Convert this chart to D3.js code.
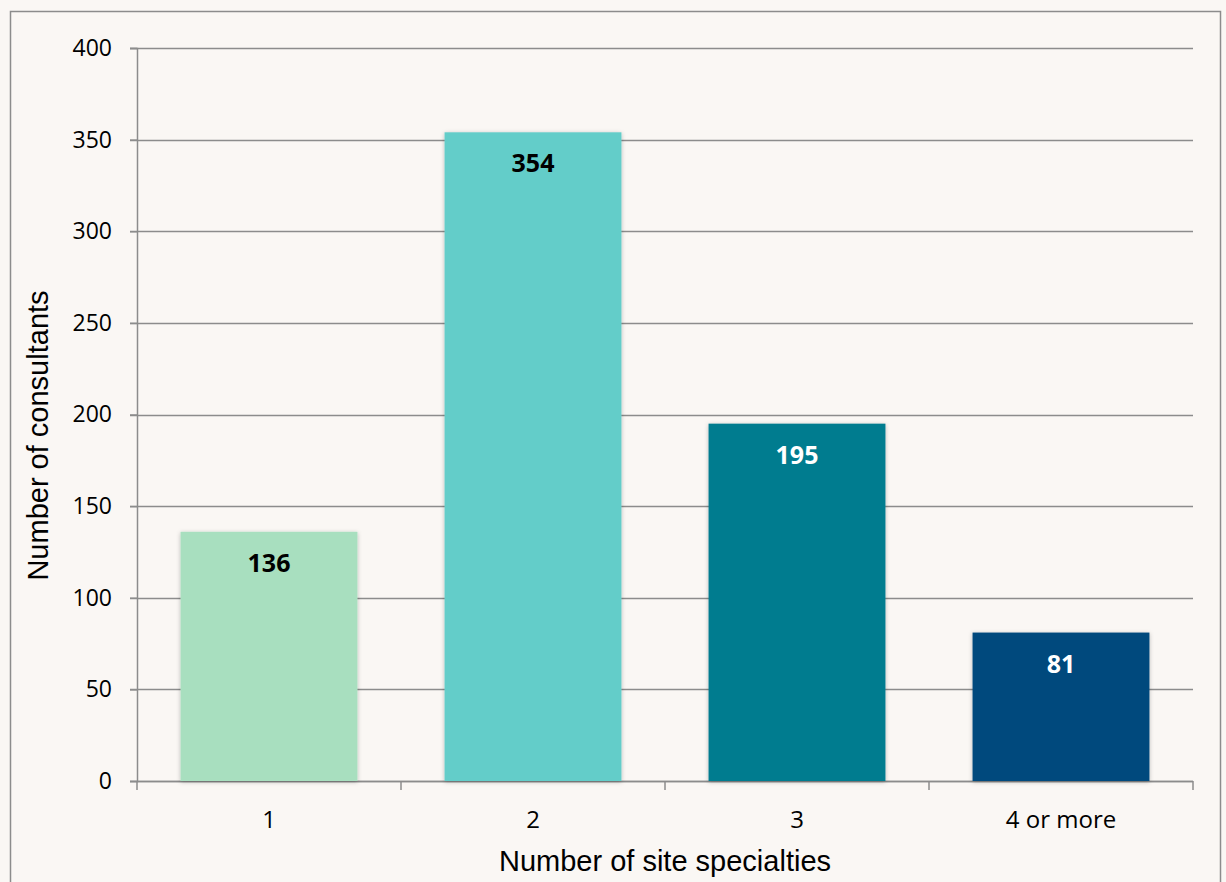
<!DOCTYPE html>
<html>
<head>
<meta charset="utf-8">
<script src="https://cdn.jsdelivr.net/npm/d3@7"></script>
<style>
  body { margin: 0; background: #faf7f4; }
  .tick text { font-family: "Open Sans", "Lato", sans-serif; }
</style>
</head>
<body>
<div id="chartContainer"></div>
<script>
const categories = ['1', '2', '3', '4 or more'];
const counts = [136, 354, 195, 81];
const barColors = ['#a8dfbf', '#64cdc9', '#037b8f', '#02487d'];
const labelColors = ['#000000', '#000000', '#ffffff', '#ffffff'];
const yTicks = [0, 50, 100, 150, 200, 250, 300, 350, 400];

const svgWidth = 1226;
const svgHeight = 882;
const margin = { top: 48, right: 33, bottom: 101, left: 137 };
const chartWidth = svgWidth - margin.left - margin.right;
const chartHeight = svgHeight - margin.top - margin.bottom;

const svg = d3.select('#chartContainer')
    .append('svg')
    .attr('width', svgWidth)
    .attr('height', svgHeight);

svg.append('rect')
    .attr('x', 0).attr('y', 0)
    .attr('width', svgWidth).attr('height', svgHeight)
    .attr('fill', '#faf7f4');

// outer frame
svg.append('rect')
    .attr('x', 10.5).attr('y', 11.5)
    .attr('width', 1210).attr('height', 900)
    .attr('fill', 'none')
    .attr('stroke', '#8c8c8c')
    .attr('stroke-width', 1.5);

const defs = svg.append('defs');
const shadow = defs.append('filter').attr('id', 'shadow')
    .attr('x', '-10%').attr('y', '-10%').attr('width', '120%').attr('height', '120%');
shadow.append('feDropShadow')
    .attr('dx', 0).attr('dy', 1).attr('stdDeviation', 2)
    .attr('flood-color', '#000').attr('flood-opacity', 0.25);

const chart = svg.append('g')
    .attr('transform', `translate(${margin.left}, ${margin.top})`);

const xScale = d3.scaleBand()
    .domain(categories)
    .range([0, chartWidth])
    .paddingInner(0.33)
    .paddingOuter(0.165);

const yScale = d3.scaleLinear()
    .domain([0, 400])
    .range([chartHeight, 0]);

// gridlines
chart.append('g')
    .selectAll('line')
    .data(yTicks)
    .join('line')
    .attr('x1', -7)
    .attr('x2', chartWidth)
    .attr('y1', d => Math.round(yScale(d)) + 0.5)
    .attr('y2', d => Math.round(yScale(d)) + 0.5)
    .attr('stroke', '#8c8c8c')
    .attr('stroke-width', 1.5);

const yAxis = d3.axisLeft(yScale)
    .tickValues(yTicks)
    .tickSize(7)
    .tickPadding(18);
const yG = chart.append('g').call(yAxis);
yG.select('.domain').attr('stroke', '#8c8c8c').attr('stroke-width', 1.5);
yG.selectAll('.tick line').attr('stroke', '#8c8c8c').attr('stroke-width', 1.5);
yG.selectAll('.tick text').attr('font-size', 23).attr('fill', '#000');

// x axis: ticks at band boundaries
const xG = chart.append('g')
    .attr('transform', `translate(0, ${chartHeight})`);
xG.append('line')
    .attr('x1', 0).attr('x2', chartWidth)
    .attr('y1', 0.5).attr('y2', 0.5)
    .attr('stroke', '#8c8c8c').attr('stroke-width', 1.5);
const boundaries = categories.map(c => xScale(c) - xScale.step() * xScale.paddingInner() / 2)
    .concat([chartWidth]);
xG.selectAll('.xtick')
    .data(boundaries)
    .join('line')
    .attr('class', 'xtick')
    .attr('x1', d => d).attr('x2', d => d)
    .attr('y1', 0).attr('y2', 9)
    .attr('stroke', '#8c8c8c').attr('stroke-width', 1.5);
xG.selectAll('.xlabel')
    .data(categories)
    .join('text')
    .attr('class', 'xlabel')
    .attr('x', d => xScale(d) + xScale.bandwidth() / 2)
    .attr('y', 47)
    .attr('text-anchor', 'middle')
    .attr('font-family', '"Open Sans", Lato, sans-serif')
    .attr('font-size', 24)
    .attr('fill', '#000')
    .text(d => d);

// bars
const data = categories.map((c, i) => ({ label: c, value: counts[i], color: barColors[i], text: labelColors[i] }));

chart.selectAll('.bar')
    .data(data)
    .join('rect')
    .attr('class', 'bar')
    .attr('x', d => xScale(d.label))
    .attr('y', d => yScale(d.value))
    .attr('width', xScale.bandwidth())
    .attr('height', d => chartHeight - yScale(d.value))
    .attr('fill', d => d.color)
    .attr('filter', 'url(#shadow)');

chart.selectAll('.val')
    .data(data)
    .join('text')
    .attr('class', 'val')
    .attr('x', d => xScale(d.label) + xScale.bandwidth() / 2)
    .attr('y', d => yScale(d.value) + 40)
    .attr('text-anchor', 'middle')
    .attr('font-family', '"Open Sans", Lato, sans-serif')
    .attr('font-weight', 'bold')
    .attr('font-size', 25)
    .attr('fill', d => d.text)
    .text(d => d.value);

// axis titles
svg.append('text')
    .attr('x', margin.left + chartWidth / 2)
    .attr('y', 871)
    .attr('text-anchor', 'middle')
    .attr('font-family', '"Liberation Sans", Arial, sans-serif')
    .attr('font-size', 29)
    .attr('fill', '#000')
    .text('Number of site specialties');

svg.append('text')
    .attr('transform', `translate(48, ${margin.top + chartHeight / 2 + 21}) rotate(-90)`)
    .attr('text-anchor', 'middle')
    .attr('font-family', '"Liberation Sans", Arial, sans-serif')
    .attr('font-size', 29)
    .attr('fill', '#000')
    .text('Number of consultants');
</script>
</body>
</html>
